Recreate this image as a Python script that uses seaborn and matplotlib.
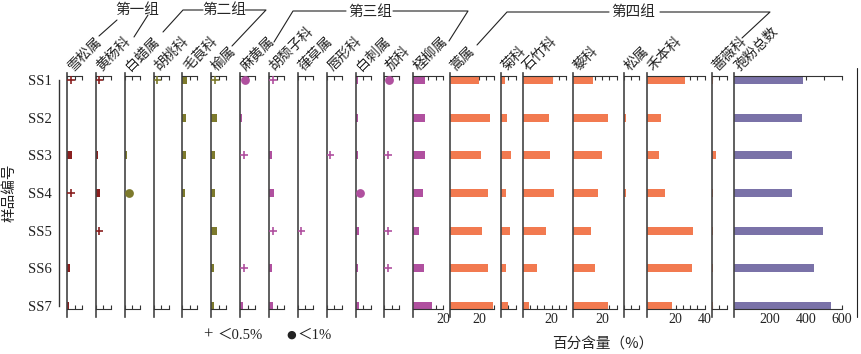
import numpy as np
import pandas as pd
import matplotlib
matplotlib.use("Agg")
import matplotlib.pyplot as plt
import seaborn as sns
from matplotlib.lines import Line2D
from matplotlib.ticker import FixedLocator, FixedFormatter

sns.set_theme(style="white")
plt.rcParams["font.family"] = ["Liberation Serif", "Noto Sans CJK SC", "DejaVu Sans"]

# ---------------- data ----------------
samples = ["SS1", "SS2", "SS3", "SS4", "SS5", "SS6", "SS7"]
taxa = ["雪松属", "黄杨科", "白蜡属", "胡桃科", "毛茛科", "榆属", "麻黄属", "胡颓子科",
        "葎草属", "唇形科", "白刺属", "茄科", "柽柳属", "蒿属", "菊科", "石竹科",
        "藜科", "松属", "禾本科", "蔷薇科", "孢粉总数"]
group_of_taxon = [1, 1, 2, 2, 2, 2, 3, 3, 3, 3, 3, 3, 3, 4, 4, 4, 4, 4, 4, 4, 5]
group_names = ["第一组", "第二组", "第三组", "第四组"]

# percentages (values < 0.5 drawn as "+", 0.5-1 drawn as dot, 0 = absent)
cedrus = [0.3, 0, 3.2, 0.3, 0, 1.8, 1.5]
buxaceae = [0.3, 0, 1.3, 2.5, 0.3, 0, 0]
fraxinus = [0, 0, 1.2, 0.8, 0, 0, 0]
juglandaceae = [0.3, 0, 0, 0, 0, 0, 0]
ranunculaceae = [2.8, 2.5, 2.2, 2.0, 0, 0, 0]
ulmus = [0.3, 3.8, 2.7, 2.7, 3.8, 2.0, 1.5]
ephedra = [0.8, 1.5, 0.3, 0, 0, 0.3, 2.0]
elaeagnaceae = [0.3, 0, 1.8, 3.0, 0.3, 1.8, 2.7]
humulus = [0, 0, 0, 0, 0.3, 0, 0]
lamiaceae = [0, 0, 0.3, 0, 0, 0, 0]
nitraria = [1.5, 1.5, 1.5, 0.8, 2.2, 1.3, 2.0]
solanaceae = [0.8, 0, 0.3, 0, 0.3, 0.3, 0]
tamarix = [8.0, 7.5, 7.5, 6.7, 4.0, 7.0, 12.5]
artemisia = [20.0, 27.5, 21.5, 26.0, 22.0, 26.5, 29.5]
asteraceae = [2.8, 4.0, 7.0, 3.5, 6.2, 3.3, 4.6]
caryophyllaceae = [20.7, 18.0, 19.3, 22.0, 16.0, 10.0, 4.2]
chenopodiaceae = [13.5, 24.0, 20.0, 17.5, 12.4, 15.0, 24.0]
pinus = [0, 1.2, 0, 1.2, 0, 0, 0]
poaceae = [26.5, 10.0, 8.5, 12.6, 32.0, 31.5, 17.7]
rosaceae = [1.0, 0, 3.0, 1.0, 1.0, 1.0, 1.0]
total_count = [385, 376, 324, 322, 493, 446, 539]

series = [cedrus, buxaceae, fraxinus, juglandaceae, ranunculaceae, ulmus, ephedra,
          elaeagnaceae, humulus, lamiaceae, nitraria, solanaceae, tamarix, artemisia,
          asteraceae, caryophyllaceae, chenopodiaceae, pinus, poaceae, rosaceae,
          total_count]

# ---------------- layout (pixels) ----------------
W, H = 861, 354
group_colors = {1: "#8a2020", 2: "#7d7a2c", 3: "#b0509f", 4: "#f27a50", 5: "#7a72a8"}
small_left = [67 + 28.86 * i for i in range(13)]
panel_left = small_left + [450, 501, 522.5, 573, 624, 646.5, 712, 734]
panel_xmax = [10] * 12 + [20, 30, 10, 30, 30, 10, 40, 10, 600]
px_per_unit = [1.5] * 13 + [1.45] * 7 + [0.18]
panel_step = [5] * 20 + [100]
panel_labels = [[]] * 12 + [[20], [20], [], [20], [20], [], [20, 40], [], [200, 400, 600]]

top_px, bot_px = 76, 309
row0_px, row_gap = 80, 37.67
ylim = (6 + (bot_px - 306) / row_gap, -(row0_px - top_px) / row_gap)
spine_lo = 6 + (317 - 306) / row_gap
spine_hi = -(row0_px - 73) / row_gap

fig = plt.figure(figsize=(W / 100, H / 100), dpi=100)


def fx(x):
    return x / W


def fy(y):
    return 1 - y / H


ink = "#333333"
cjk = ["Noto Sans CJK SC", "DejaVu Sans"]

for i, name in enumerate(taxa):
    x0 = panel_left[i]
    xmax = panel_xmax[i]
    w = xmax * px_per_unit[i]
    color = group_colors[group_of_taxon[i]]
    ax = fig.add_axes([fx(x0), fy(bot_px), w / W, (bot_px - top_px) / H])
    ax.set_facecolor("none")
    vals = np.asarray(series[i], dtype=float)
    df = pd.DataFrame({"sample": np.arange(7), "value": np.where(vals >= 1, vals, 0.0)})
    sns.barplot(data=df, x="value", y="sample", orient="h", order=list(range(7)),
                color=color, width=0.22, saturation=1, linewidth=0, ax=ax)
    plus_rows = np.where((vals > 0) & (vals < 0.5))[0]
    dot_rows = np.where((vals >= 0.5) & (vals < 1))[0]
    if len(plus_rows):
        sns.scatterplot(x=np.full(len(plus_rows), 3.5 / px_per_unit[i]), y=plus_rows,
                        marker="+", s=36, color=color, linewidth=1.2, ax=ax, zorder=3)
    if len(dot_rows):
        sns.scatterplot(x=np.full(len(dot_rows), 4.5 / px_per_unit[i]), y=dot_rows,
                        marker="o", s=40, color=color, linewidth=0, ax=ax, zorder=3)
    ax.set_xlim(0, xmax)
    ax.set_ylim(*ylim)
    ax.set_xlabel("")
    ax.set_ylabel("")
    ax.set_yticks([])
    ticks = list(np.arange(0, xmax + panel_step[i] / 2, panel_step[i]))
    ax.xaxis.set_major_locator(FixedLocator(ticks))
    ax.xaxis.set_major_formatter(FixedFormatter(
        [str(int(t)) if int(t) in panel_labels[i] else "" for t in ticks]))
    ax.tick_params(axis="x", direction="in", length=3, width=0.8, color=ink,
                   top=True, bottom=True, labeltop=False, labelbottom=True,
                   labelsize=10, pad=3, labelcolor="#222222")
    ax.spines["right"].set_visible(False)
    for s in ["top", "bottom"]:
        ax.spines[s].set_linewidth(0.8)
        ax.spines[s].set_color(ink)
    ax.spines["left"].set_linewidth(1.2)
    ax.spines["left"].set_color("#444444")
    ax.spines["left"].set_bounds(spine_lo, spine_hi)
    fig.text(fx(x0 + 8), fy(73), name, rotation=45, rotation_mode="anchor",
             ha="left", va="bottom", fontsize=10, family=cjk, color="#222222")

# sample axis
axy = fig.add_axes([fx(59), fy(bot_px), 0.0001, (bot_px - top_px) / H])
axy.set_facecolor("none")
axy.set_ylim(*ylim)
axy.set_yticks(range(7))
axy.set_yticklabels(samples)
axy.set_xticks([])
for s in ["top", "bottom", "right"]:
    axy.spines[s].set_visible(False)
axy.spines["left"].set_bounds(0, 6)
axy.spines["left"].set_color(ink)
axy.spines["left"].set_linewidth(1.0)
axy.tick_params(axis="y", direction="out", length=3, width=0.8, color=ink,
                labelsize=10.5, pad=2, labelcolor="#222222")
fig.text(fx(10), fy(193), "样品编号", rotation=90, ha="center", va="center",
         fontsize=10.5, family=cjk, color="#222222")


def pline(xs, ys):
    fig.add_artist(Line2D([fx(x) for x in xs], [fy(y) for y in ys],
                          transform=fig.transFigure, color="#222222", lw=0.8))


# group labels
fig.text(fx(137), fy(10), group_names[0], ha="center", va="center", fontsize=10.5, family=cjk)
pline([99, 117], [36, 20])
pline([134, 148], [37, 15])
fig.text(fx(224), fy(10), group_names[1], ha="center", va="center", fontsize=10.5, family=cjk)
pline([163, 183, 203], [32, 10, 10])
pline([245, 266, 232], [10, 10, 46])
fig.text(fx(370), fy(12), group_names[2], ha="center", va="center", fontsize=10.5, family=cjk)
pline([274, 293, 346], [42, 11, 11])
pline([393, 468, 449], [11, 11, 41])
fig.text(fx(633), fy(12), group_names[3], ha="center", va="center", fontsize=10.5, family=cjk)
pline([477, 507, 609], [45, 12, 12])
pline([660, 770, 742], [12, 12, 38])

# right border line
pline([857, 857], [68, 317])

# legend & axis title
fig.text(fx(208), fy(335), "+", ha="center", va="center", fontsize=12, color="#222222")
fig.text(fx(217), fy(335), "＜0.5%", ha="left", va="center", fontsize=10.5, color="#222222")
fig.text(fx(291), fy(335), "●", ha="center", va="center", fontsize=8, family=["DejaVu Sans"], color="#222222")
fig.text(fx(297), fy(335), "＜1%", ha="left", va="center", fontsize=10.5, color="#222222")
fig.text(fx(603), fy(345), "百分含量（%）", ha="center", va="center", fontsize=10.5, family=cjk,
         color="#222222")

fig.savefig("out.png", dpi=100)
